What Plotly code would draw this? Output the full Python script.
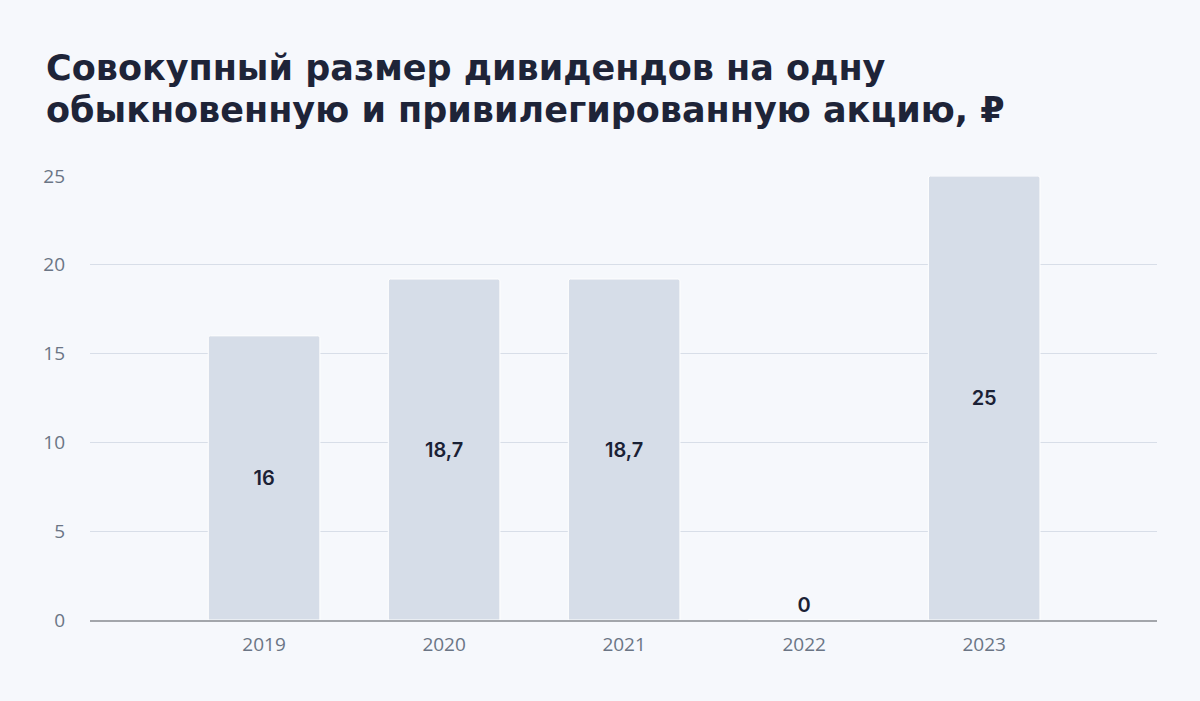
import plotly.graph_objects as go

years = ["2019", "2020", "2021", "2022", "2023"]
values = [16, 19.2, 19.2, 0, 25]
labels = ["16", "18,7", "18,7", "0", "25"]
y_ticks = [0, 5, 10, 15, 20, 25]

title_lines = ["Совокупный размер дивидендов на одну",
               "обыкновенную и привилегированную акцию, ₽"]

positions = ["inside" if v > 0 else "outside" for v in values]

fig = go.Figure(go.Bar(
    x=years, y=values, text=labels,
    textposition=positions, insidetextanchor="middle",
    textangle=0, cliponaxis=False,
    textfont=dict(family="Inter", size=20, color="#1b2135", weight=600),
    marker=dict(color="#d6dde8", line=dict(color="#ffffff", width=1)),
    width=0.62,
))

top, bottom = 176, 620
for i, line in enumerate(title_lines):
    ypix = 68 + 42 * i
    fig.add_annotation(
        text=line, xref="paper", yref="paper",
        x=(44 - 90) / 1067, y=(bottom - ypix) / (bottom - top),
        xanchor="left", yanchor="middle", showarrow=False,
        font=dict(family="DejaVu Sans", size=35, color="#1e2438", weight=700),
    )

fig.update_layout(
    width=1200, height=701,
    paper_bgcolor="#f6f8fc", plot_bgcolor="#f6f8fc",
    margin=dict(l=90, r=43, t=176, b=81),
    barcornerradius=2,
    showlegend=False,
    xaxis=dict(
        type="category", range=[-0.967, 4.96],
        showgrid=False, showline=True, linecolor="#a3a6ab", linewidth=1.5,
        ticks="", ticklabelstandoff=6,
        tickfont=dict(family="Open Sans", size=19, color="#6b7585"),
    ),
    yaxis=dict(
        range=[0, 25], tickvals=y_ticks,
        showgrid=True, gridcolor="#d8dee8", gridwidth=1.2,
        zeroline=False, ticks="", ticklabelstandoff=24,
        tickfont=dict(family="Open Sans", size=19, color="#6b7585"),
    ),
)

fig.write_html("out.html")
